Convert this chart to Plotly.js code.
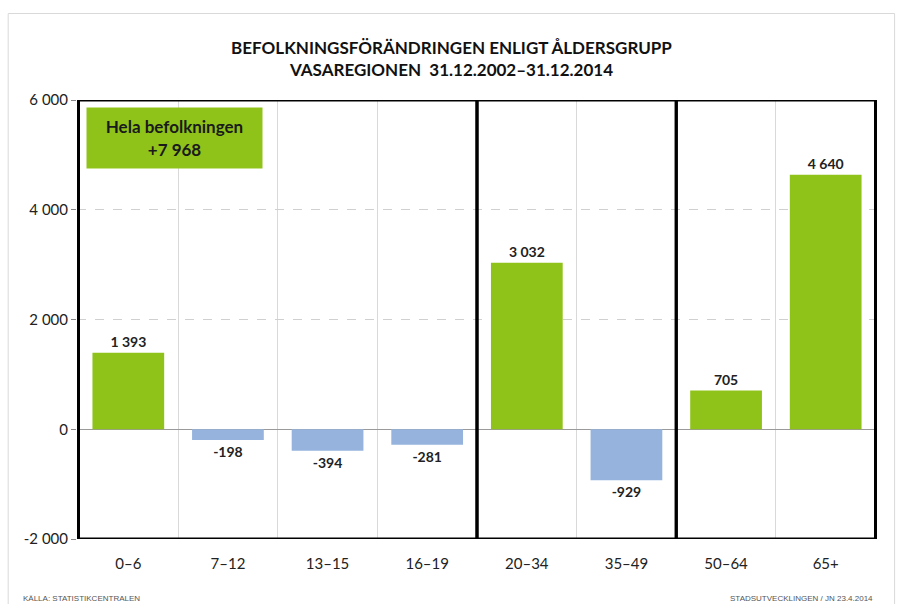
<!DOCTYPE html>
<html><head><meta charset="utf-8">
<script src="https://cdn.plot.ly/plotly-3.0.1.min.js"></script>
<style>html,body{margin:0;padding:0;background:#fff}#chart{width:903px;height:604px}</style>
</head><body><div id="chart"></div>
<script>
const categories = ["0–6","7–12","13–15","16–19","20–34","35–49","50–64","65+"];
const values = [1393,-198,-394,-281,3032,-929,705,4640];
const labels = ["1 393","-198","-394","-281","3 032","-929","705","4 640"];
const yTickVals = [-2000,0,2000,4000,6000];
const yTickText = ["-2 000","0","2 000","4 000","6 000"];
const groups = [[-0.5,3.5],[3.5,5.5],[5.5,7.5]];
const totalText = "Hela befolkningen<br>+7 968";

const green = "#8fc31a", blue = "#95b3dd";
const font = "Lato, 'Open Sans', sans-serif";

const trace = {
  type: "bar", x: categories, y: values,
  marker: {color: values.map(v => v >= 0 ? green : blue), line: {width: 0}},
  text: labels, textposition: "outside", cliponaxis: false,
  textfont: {family: font, size: 14, color: "#222", weight: "bold"},
  hoverinfo: "skip"
};

const shapes = groups.map(g => ({
  type: "rect", xref: "x", yref: "y", x0: g[0], x1: g[1], y0: -2000, y1: 6000,
  line: {color: "#000", width: 3}, fillcolor: "rgba(0,0,0,0)", layer: "above"
}));
shapes.push({type: "rect", xref: "paper", yref: "paper", x0: -0.086, x1: 1.022, y0: -0.15, y1: 1.197,
  line: {color: "#d9d9d9", width: 1}, fillcolor: "rgba(0,0,0,0)"});

const layout = {
  width: 903, height: 604,
  margin: {l: 77, r: 26, t: 100, b: 65},
  paper_bgcolor: "#fff", plot_bgcolor: "#fff",
  showlegend: false, bargap: 0.28,
  title: {text: "<b>BEFOLKNINGSFÖRÄNDRINGEN ENLIGT ÅLDERSGRUPP<br>VASAREGIONEN  31.12.2002–31.12.2014</b>",
    font: {family: font, size: 17, color: "#111"}, x: 0.5, xanchor: "center",
    yref: "container", y: 0.91, yanchor: "top"},
  xaxis: {type: "category", tickson: "boundaries", showgrid: true, gridcolor: "#d9d9d9", gridwidth: 1,
    ticks: "", showline: false, zeroline: false,
    tickfont: {family: font, size: 15, color: "#222"}, ticklabelstandoff: 14},
  yaxis: {range: [-2000, 6000], tickvals: yTickVals, ticktext: yTickText,
    showgrid: true, gridcolor: "#d0d0d0", griddash: "dash", gridwidth: 1,
    zeroline: true, zerolinecolor: "#9a9a9a", zerolinewidth: 1,
    ticks: "outside", ticklen: 5, tickcolor: "#888", showline: false,
    tickfont: {family: font, size: 15, color: "#222"}},
  shapes: shapes,
  annotations: [
    {text: "<b>" + totalText + "</b>", xref: "paper", yref: "paper", x: 0.011, y: 0.983,
     xanchor: "left", yanchor: "top", showarrow: false, align: "center",
     font: {family: font, size: 17, color: "#1a1a1a"}, bgcolor: "#8fc31a",
     width: 169, height: 54, borderpad: 3},
    {text: "KÄLLA: STATISTIKCENTRALEN", xref: "paper", yref: "paper", x: -0.07, y: -0.135,
     xanchor: "left", yanchor: "middle", showarrow: false,
     font: {family: "'Liberation Sans Narrow', sans-serif", size: 8, color: "#555"}},
    {text: "STADSUTVECKLINGEN / JN 23.4.2014", xref: "paper", yref: "paper", x: 0.998, y: -0.135,
     xanchor: "right", yanchor: "middle", showarrow: false,
     font: {family: "'Liberation Sans Narrow', sans-serif", size: 8, color: "#555"}}
  ]
};

Plotly.newPlot("chart", [trace], layout, {displayModeBar: false, staticPlot: true});
</script></body></html>
